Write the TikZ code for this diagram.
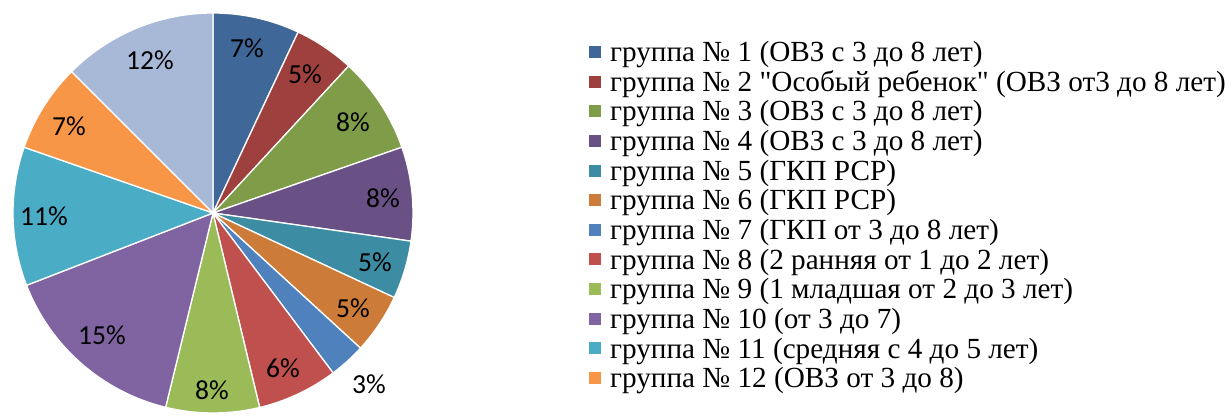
\documentclass[tikz,border=0pt]{standalone}
\usepackage{fontspec}
\setmainfont{Liberation Serif}
\newfontfamily\legfont{Liberation Serif}[Ligatures=TeXOff]
\newfontfamily\lblfont{Carlito}
\definecolor{c1}{HTML}{3F6899}
\definecolor{c2}{HTML}{9E413E}
\definecolor{c3}{HTML}{7F9C48}
\definecolor{c4}{HTML}{695185}
\definecolor{c5}{HTML}{3C8DA3}
\definecolor{c6}{HTML}{CC7B38}
\definecolor{c7}{HTML}{4F81BD}
\definecolor{c8}{HTML}{C0504D}
\definecolor{c9}{HTML}{9BBB59}
\definecolor{c10}{HTML}{8064A2}
\definecolor{c11}{HTML}{4BACC6}
\definecolor{c12}{HTML}{F79646}
\definecolor{c13}{HTML}{A8B9D8}
\tikzset{
  slice/.style={draw=white,line width=1.3pt,line join=round},
  pct/.style={font=\lblfont\fontsize{27.5}{28}\selectfont,inner sep=0pt},
  legsq/.style={minimum size=12pt,inner sep=0pt,draw=none},
  legtxt/.style={anchor=base west,inner sep=0pt,font=\legfont\fontsize{29.2}{32}\selectfont}
}
\begin{document}
\begin{tikzpicture}[x=1pt,y=1pt]
\useasboundingbox (0,0) rectangle (1232,417);
\coordinate (C) at (213,204);
\foreach \a/\b/\c in {90/64.8/c1, 64.8/47.3/c2, 47.3/19.2/c3, 19.2/-8.1/c4, -8.1/-25/c5, -25/-42.5/c6, -42.5/-53.1/c7, -53.1/-76.5/c8, -76.5/-103.7/c9, -103.7/-158.8/c10, -158.8/-199.2/c11, -199.2/-225/c12, -225/-270/c13}{
  \filldraw[slice,fill=\c] (C) -- ++(\a:200) arc[start angle=\a,end angle=\b,radius=200] -- cycle;
}
\node[pct] (p1) at (247,369) {7\%};
\node[pct] (p2) at (305,343) {5\%};
\node[pct] (p3) at (353,295) {8\%};
\node[pct] (p4) at (383,219) {8\%};
\node[pct] (p5) at (375,155) {5\%};
\node[pct] (p6) at (353,109) {5\%};
\node[pct] (p7) at (369,33) {3\%};
\node[pct] (p8) at (283,49) {6\%};
\node[pct] (p9) at (212,27) {8\%};
\node[pct] (p10) at (102,82) {15\%};
\node[pct] (p11) at (44,201) {11\%};
\node[pct] (p12) at (69,291) {7\%};
\node[pct] (p13) at (150,357) {12\%};
\foreach \i/\c/\t in {
 1/c1/{группа № 1 (ОВЗ с 3 до 8 лет)},
 2/c2/{группа № 2 "Особый ребенок" (ОВЗ от3 до 8 лет)},
 3/c3/{группа № 3 (ОВЗ с 3 до 8 лет)},
 4/c4/{группа № 4 (ОВЗ с 3 до 8 лет)},
 5/c5/{группа № 5 (ГКП РСР)},
 6/c6/{группа № 6 (ГКП РСР)},
 7/c7/{группа № 7 (ГКП от 3 до 8 лет)},
 8/c8/{группа № 8 (2 ранняя от 1 до 2 лет)},
 9/c9/{группа № 9 (1 младшая от 2 до 3 лет)},
 10/c10/{группа № 10 (от 3 до 7)},
 11/c11/{группа № 11 (средняя с 4 до 5 лет)},
 12/c12/{группа № 12 (ОВЗ от 3 до 8)}}{
  \node[legsq,fill=\c] (sq\i) at (595,{365-(\i-1)*29.64}) {};
  \node[legtxt] (lt\i) at (610,{355.3-(\i-1)*29.64}) {\t};
}
\end{tikzpicture}
\end{document}
